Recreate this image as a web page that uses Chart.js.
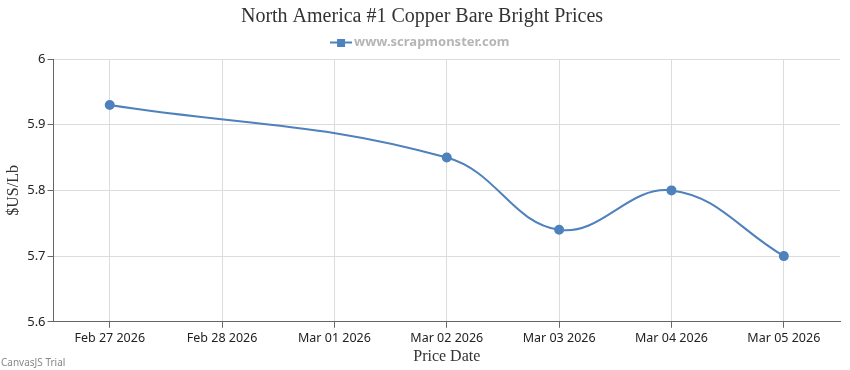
<!DOCTYPE html>
<html>
<head>
<meta charset="utf-8">
<script src="https://cdn.jsdelivr.net/npm/chart.js@4"></script>
<style>
  html, body { margin: 0; padding: 0; background: #fff; }
  #wrap { position: relative; width: 850px; height: 370px; }
  #trial { position: absolute; left: 1px; bottom: 1px; font: 10px "Noto Sans", sans-serif; color: #888; }
</style>
</head>
<body>
<div id="wrap">
  <canvas id="priceChart" width="850" height="370"></canvas>
  <div id="trial">CanvasJS Trial</div>
</div>
<script>
const dates = ["Feb 27 2026", "Feb 28 2026", "Mar 01 2026", "Mar 02 2026", "Mar 03 2026", "Mar 04 2026", "Mar 05 2026"];
const prices = [5.93, null, null, 5.85, 5.74, 5.80, 5.70];
const yTicks = [5.6, 5.7, 5.8, 5.9, 6];

const lineColor = "#4F81BC";

// legend marker: short line with a square in the middle
const marker = document.createElement("canvas");
marker.width = 22; marker.height = 8;
const mctx = marker.getContext("2d");
mctx.fillStyle = lineColor;
mctx.fillRect(0, 3, 22, 2);
mctx.fillRect(7, 0, 8, 8);

const ctx = document.getElementById("priceChart").getContext("2d");
new Chart(ctx, {
  type: "line",
  data: {
    labels: dates,
    datasets: [{
      label: "www.scrapmonster.com",
      data: prices,
      borderColor: lineColor,
      backgroundColor: lineColor,
      borderWidth: 2,
      pointRadius: 4,
      pointBackgroundColor: lineColor,
      pointStyle: "circle",
      tension: 0.4,
      spanGaps: true,
      fill: false
    }]
  },
  options: {
    responsive: false,
    animation: false,
    layout: { padding: { left: 4, right: 10, top: 0, bottom: 4 } },
    plugins: {
      title: {
        display: true,
        text: "North America #1 Copper Bare Bright Prices",
        color: "#333",
        font: { family: "Liberation Serif", size: 20, weight: "normal" },
        padding: { top: 5, bottom: 0 }
      },
      legend: {
        labels: {
          usePointStyle: true,
          generateLabels: (chart) => [{
            text: chart.data.datasets[0].label,
            pointStyle: marker,
            fillStyle: lineColor,
            strokeStyle: lineColor,
            fontColor: "#b5b5b5",
            lineWidth: 0,
            datasetIndex: 0
          }],
          color: "#b5b5b5",
          font: { family: "Noto Sans", size: 13, weight: "bold" },
          padding: 7
        }
      },
      tooltip: { enabled: false }
    },
    scales: {
      x: {
        offset: true,
        grid: { color: "#dcdcdc", offset: false, tickLength: 6, tickColor: "#666" },
        border: { color: "#666" },
        ticks: { color: "#222", font: { family: "Noto Sans", size: 12.5 }, maxRotation: 0, padding: 3 },
        title: {
          display: true,
          text: "Price Date",
          color: "#333",
          font: { family: "Liberation Serif", size: 16 },
          padding: { top: -2, bottom: 0 }
        }
      },
      y: {
        min: 5.6,
        max: 6,
        afterBuildTicks: (axis) => { axis.ticks = yTicks.map(v => ({ value: v })); },
        grid: { color: "#dcdcdc", tickLength: 6, tickColor: "#666" },
        border: { color: "#666" },
        ticks: {
          color: "#222",
          font: { family: "Noto Sans", size: 13 },
          padding: 2,
          callback: (v) => String(Number(v.toFixed(1)))
        },
        title: {
          display: true,
          text: "$US/Lb",
          color: "#333",
          font: { family: "Liberation Serif", size: 16 },
          padding: { top: 0, bottom: 2 }
        }
      }
    }
  }
});
</script>
</body>
</html>
